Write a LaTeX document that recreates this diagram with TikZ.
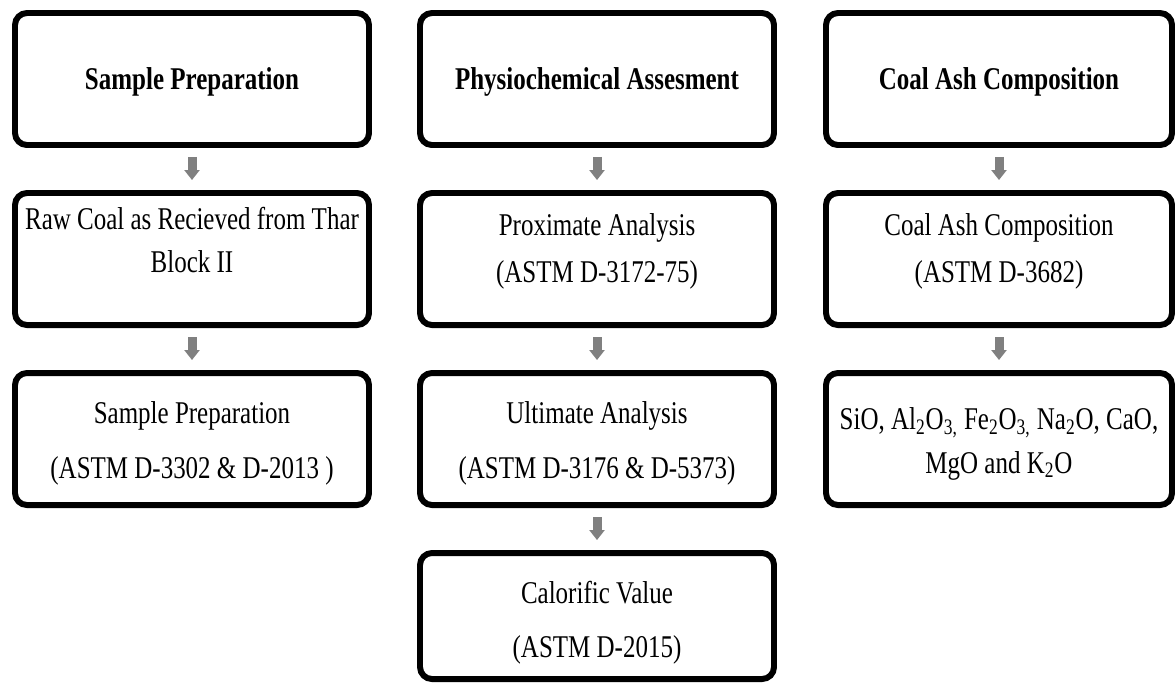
\documentclass[tikz,border=0pt]{standalone}
\usepackage{fontspec}
\setmainfont[FakeStretch=0.79]{Liberation Serif}
\usetikzlibrary{arrows.meta}
\definecolor{arrowgray}{RGB}{128,128,128}
\tikzstyle{stage}     = [draw, line width=3.4pt, rounded corners=0.24cm, minimum width=7.08cm, minimum height=2.64cm, inner sep=2pt, align=center]
\tikzstyle{stagehead} = [stage, font=\fontsize{18}{22}\selectfont\bfseries, text height=12.5pt, text depth=0pt]
\tikzstyle{flow}      = [line width=0.18cm, draw=arrowgray, -{Triangle[width=0.3cm,length=0.2cm]}, shorten <=0.18cm, shorten >=0.2cm]
% height of the text block (last baseline), line spacing
\tikzset{lines/.style 2 args={text height=#1, text depth=0pt, font=\fontsize{18}{#2}\selectfont}}

\begin{document}
\begin{tikzpicture}
\useasboundingbox (0,0) rectangle (23.5,-13.64);

\node[stagehead] (SP) at (3.84,-1.58) {Sample Preparation};
\node[stage, lines={15.9pt}{24.5pt}] (RC) at (3.84,-5.18) {Raw Coal as Recieved from Thar\\Block II};
\node[stage, lines={44.4pt}{31.3pt}] (SPP) at (3.84,-8.78) {Sample Preparation\\(ASTM D-3302 \& D-2013 )};

\node[stagehead] (PA) at (11.94,-1.58) {Physiochemical Assesment};
\node[stage, lines={26.2pt}{26.2pt}] (PX) at (11.94,-5.18) {Proximate Analysis\\(ASTM D-3172-75)};
\node[stage, lines={44.4pt}{31.3pt}] (UA) at (11.94,-8.78) {Ultimate Analysis\\(ASTM D-3176 \& D-5373)};
\node[stage, lines={46.7pt}{30.7pt}, minimum height=2.52cm] (CV) at (11.94,-12.32) {Calorific Value\\(ASTM D-2015)};

\node[stagehead, minimum width=6.92cm] (CA) at (19.98,-1.58) {Coal Ash Composition};
\node[stage, lines={26.2pt}{26.2pt}, minimum width=6.92cm] (CAC) at (19.98,-5.18) {Coal Ash Composition\\(ASTM D-3682)};
\node[stage, lines={38.7pt}{24.5pt}, minimum width=6.92cm] (OX) at (19.98,-8.78) {SiO, Al\textsubscript{2}O\textsubscript{3,} Fe\textsubscript{2}O\textsubscript{3,} Na\textsubscript{2}O, CaO,\\MgO and K\textsubscript{2}O};

\draw[flow] (SP) -- (RC);
\draw[flow] (RC) -- (SPP);

\draw[flow] (PA) -- (PX);
\draw[flow] (PX) -- (UA);
\draw[flow] (UA) -- (CV);

\draw[flow] (CA) -- (CAC);
\draw[flow] (CAC) -- (OX);

\end{tikzpicture}
\end{document}
